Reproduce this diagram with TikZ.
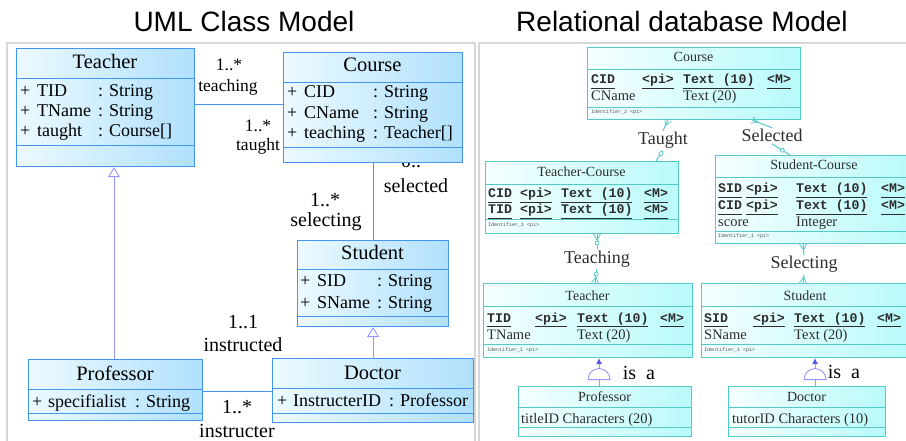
\documentclass[tikz,border=0pt]{standalone}
\usepackage{fontspec}
\setmainfont{Liberation Serif}
\setmonofont{Liberation Mono}
\newfontfamily\headfont{Liberation Sans}
\usetikzlibrary{arrows.meta,shapes.geometric,decorations.markings}
\newcommand{\keyfield}[1]{\underline{#1\vphantom{()}}}

\begin{document}
\begin{tikzpicture}[x=1pt, y=-1pt,
  heading/.style={font=\headfont\fontsize{28}{30}\selectfont, anchor=base, inner sep=0pt},
  panel/.style={draw=panelgray, line width=1.5pt},
  umlbox/.style={draw=umlblue, line width=1.1pt, left color=umllight, right color=umldark, anchor=north west, inner sep=0pt},
  umlrule/.style={draw=umlblue, line width=0.9pt},
  umltitle/.style={font=\fontsize{20.5}{22}\selectfont, anchor=base, inner sep=0pt},
  attr/.style={font=\fontsize{18}{20}\selectfont, anchor=base west, inner sep=0pt},
  role/.style={font=\fontsize{20}{22}\selectfont, anchor=base, inner sep=0pt},
  smallrole/.style={font=\fontsize{17.5}{19}\selectfont, anchor=base, inner sep=0pt},
  assoc/.style={draw=umlblue, line width=0.9pt},
  generalize/.style={draw=violetline, line width=0.9pt, -{Triangle[length=10pt, width=12pt, fill=white]}},
  dbtable/.style={draw=tealline, line width=1pt, left color=rdlight, right color=rddark, anchor=north west, inner sep=0pt},
  dbrule/.style={draw=tealline, line width=0.8pt},
  dbtitle/.style={font=\fontsize{14}{16}\selectfont, anchor=base, inner sep=0pt, text=dbtext},
  column/.style={font=\fontsize{14.5}{16}\selectfont, anchor=base west, inner sep=0pt, text=dbtext},
  keycol/.style={font=\fontsize{13.2}{15}\selectfont\ttfamily\bfseries, anchor=base west, inner sep=0pt, text=dbtext},
  ident/.style={font=\fontsize{5}{6}\selectfont\ttfamily, anchor=base west, inner sep=0pt, text=black!70},
  relname/.style={font=\fontsize{18}{20}\selectfont, anchor=base, inner sep=1.5pt, text=dbtext},
  rel/.style={draw=tealline, line width=1pt},
  crowstart/.style={postaction={decorate, decoration={markings, mark=at position 0 with {\draw[tealline, line width=0.8pt] (6pt,0pt) -- (0pt,3.5pt) (6pt,0pt) -- (0pt,-3.5pt);}}}},
  crowend/.style={postaction={decorate, decoration={markings, mark=at position 1 with {\draw[tealline, line width=0.8pt] (-6pt,0pt) -- (0pt,3.5pt) (-6pt,0pt) -- (0pt,-3.5pt);}}}},
  ringstart/.style={postaction={decorate, decoration={markings, mark=at position 0 with {\draw[tealline, line width=0.8pt, fill=white] (9pt,0pt) circle (2pt);}}}},
  ringend/.style={postaction={decorate, decoration={markings, mark=at position 1 with {\draw[tealline, line width=0.8pt, fill=white] (-9pt,0pt) circle (2pt);}}}},
  dome/.style={semicircle, draw=violetline, fill=white, line width=0.9pt, inner sep=0pt, minimum width=18pt, minimum height=11pt, anchor=chord center},
  isa/.style={draw=violetline, line width=0.9pt, -{Latex[length=6pt, width=6pt, color=isablue]}},
  isaline/.style={draw=violetline, line width=0.9pt},
  isalabel/.style={font=\fontsize{20}{22}\selectfont, anchor=base, inner sep=0pt}]
  \definecolor{umlblue}{RGB}{66,150,240}
  \definecolor{umllight}{RGB}{236,250,255}
  \definecolor{umldark}{RGB}{176,224,252}
  \definecolor{violetline}{RGB}{150,150,255}
  \definecolor{isablue}{RGB}{90,90,230}
  \definecolor{tealline}{RGB}{85,200,200}
  \definecolor{rdlight}{RGB}{245,255,255}
  \definecolor{rddark}{RGB}{185,250,250}
  \definecolor{dbtext}{RGB}{45,45,45}
  \definecolor{panelgray}{RGB}{215,215,215}
  \useasboundingbox (0,0) rectangle (906,441);
  \clip (0,0) rectangle (906,441);

  % panels and headings
  \draw[panel] (7,445) -- (7,43) -- (475,43) -- (475,445);
  \draw[panel] (479,445) -- (479,43) -- (910,43);
  \node[heading] (umlhead) at (244,32) {UML Class Model};
  \node[heading] (dbhead) at (682,32) {Relational database Model};

  % role names of the associations
  \node[smallrole] (teachmult) at (229,71) {1..*};
  \node[smallrole] (teachrole) at (228,92) {teaching};
  \node[smallrole] (taughtmult) at (258,132) {1..*};
  \node[smallrole] (taughtrole) at (258,151) {taught};
  \node[role] (selmult) at (416,168) {0..*};
  \node[role] (selrole) at (416,193) {selected};
  \node[role] (selingmult) at (325,207) {1..*};
  \node[role] (selingrole) at (326,226) {selecting};
  \node[role] (instmult) at (243,328) {1..1};
  \node[role] (instrole) at (243,351) {instructed};
  \node[role] (instrmult) at (237,413) {1..*};
  \node[role] (instrrole) at (237,437) {instructer};

  % UML classes
  \node[umlbox, minimum width=178, minimum height=118] (teacher) at (16,48) {};
  \draw[umlrule] (teacher.west |- 0,78) -- (teacher.east |- 0,78);
  \draw[umlrule] (teacher.west |- 0,145) -- (teacher.east |- 0,145);
  \node[umltitle] (teachername) at (105,69) {Teacher};
  \node[attr] (teacherp1) at (20,97) {+};
  \node[attr] (teachern1) at (37,97) {TID};
  \node[attr] (teachert1) at (98,97) {: String};
  \node[attr] (teacherp2) at (20,117) {+};
  \node[attr] (teachern2) at (37,117) {TName};
  \node[attr] (teachert2) at (98,117) {: String};
  \node[attr] (teacherp3) at (20,137) {+};
  \node[attr] (teachern3) at (37,137) {taught};
  \node[attr] (teachert3) at (98,137) {: Course[]};

  \node[umlbox, minimum width=179, minimum height=110] (course) at (283,52) {};
  \draw[umlrule] (course.west |- 0,82) -- (course.east |- 0,82);
  \draw[umlrule] (course.west |- 0,147) -- (course.east |- 0,147);
  \node[umltitle] (coursename) at (372.5,72) {Course};
  \node[attr] (coursep1) at (287,98) {+};
  \node[attr] (coursen1) at (304,98) {CID};
  \node[attr] (courset1) at (373,98) {: String};
  \node[attr] (coursep2) at (287,119) {+};
  \node[attr] (coursen2) at (304,119) {CName};
  \node[attr] (courset2) at (373,119) {: String};
  \node[attr] (coursep3) at (287,139) {+};
  \node[attr] (coursen3) at (304,139) {teaching};
  \node[attr] (courset3) at (373,139) {: Teacher[]};

  \node[umlbox, minimum width=151, minimum height=86] (student) at (297,240) {};
  \draw[umlrule] (student.west |- 0,269) -- (student.east |- 0,269);
  \draw[umlrule] (student.west |- 0,316) -- (student.east |- 0,316);
  \node[umltitle] (studentname) at (372.5,260) {Student};
  \node[attr] (studentp1) at (300,287) {+};
  \node[attr] (studentn1) at (317,287) {SID};
  \node[attr] (studentt1) at (377,287) {: String};
  \node[attr] (studentp2) at (300,308) {+};
  \node[attr] (studentn2) at (317,308) {SName};
  \node[attr] (studentt2) at (377,308) {: String};

  \node[umlbox, minimum width=174, minimum height=61] (professor) at (28,359) {};
  \draw[umlrule] (professor.west |- 0,389) -- (professor.east |- 0,389);
  \draw[umlrule] (professor.west |- 0,413) -- (professor.east |- 0,413);
  \node[umltitle] (professorname) at (115,380) {Professor};
  \node[attr] (professorp1) at (32,407) {+};
  \node[attr] (professorn1) at (48,407) {specifialist};
  \node[attr] (professort1) at (135,407) {: String};

  \node[umlbox, minimum width=201, minimum height=64] (doctor) at (272,358) {};
  \draw[umlrule] (doctor.west |- 0,388) -- (doctor.east |- 0,388);
  \draw[umlrule] (doctor.west |- 0,413) -- (doctor.east |- 0,413);
  \node[umltitle] (doctorname) at (372.5,379) {Doctor};
  \node[attr] (doctorp1) at (277,406) {+};
  \node[attr] (doctorn1) at (293,406) {InstructerID};
  \node[attr] (doctort1) at (389,406) {: Professor};

  % associations and generalizations
  \draw[assoc] (teacher.east |- 0,104) -- (course.west |- 0,104);
  \draw[assoc] (course.south) -- (student.north);
  \draw[assoc] (professor.east |- 0,391) -- (doctor.west |- 0,391);
  \draw[generalize] (professor.north -| 114,0) -- (teacher.south -| 114,0);
  \draw[generalize] (doctor.north) -- (student.south);

  % relational tables
  \node[dbtable, minimum width=213, minimum height=72] (courser) at (587,47) {};
  \draw[dbrule] (courser.west |- 0,69) -- (courser.east |- 0,69);
  \draw[dbrule] (courser.west |- 0,107) -- (courser.east |- 0,107);
  \node[dbtitle] (coursertitle) at (693.5,62) {Course};
  \node[keycol] (courserk1) at (591,84) {\keyfield{CID}};
  \node[keycol] (courserpi1) at (642,84) {\keyfield{<pi>}};
  \node[keycol] (coursertype1) at (683,84) {\keyfield{Text (10)}};
  \node[keycol] (courserm1) at (767,84) {\keyfield{<M>}};
  \node[column] (courserk2) at (591,101) {CName};
  \node[column] (coursertype2) at (683,101) {Text (20)};
  \node[ident] (courserid) at (591,114) {Identifier\_2 <pi>};

  \node[dbtable, minimum width=193, minimum height=72] (tcourse) at (485,161) {};
  \draw[dbrule] (tcourse.west |- 0,184) -- (tcourse.east |- 0,184);
  \draw[dbrule] (tcourse.west |- 0,219) -- (tcourse.east |- 0,219);
  \node[dbtitle] (tcoursetitle) at (581.5,177) {Teacher-Course};
  \node[keycol] (tcoursek1) at (488,198) {\keyfield{CID}};
  \node[keycol] (tcoursepi1) at (520,198) {\keyfield{<pi>}};
  \node[keycol] (tcoursetype1) at (561,198) {\keyfield{Text (10)}};
  \node[keycol] (tcoursem1) at (644,198) {\keyfield{<M>}};
  \node[keycol] (tcoursek2) at (488,214) {\keyfield{TID}};
  \node[keycol] (tcoursepi2) at (520,214) {\keyfield{<pi>}};
  \node[keycol] (tcoursetype2) at (561,214) {\keyfield{Text (10)}};
  \node[keycol] (tcoursem2) at (644,214) {\keyfield{<M>}};
  \node[ident] (tcourseid) at (488,226) {Identifier\_1 <pi>};

  \node[dbtable, minimum width=198, minimum height=88] (scourse) at (715,155) {};
  \draw[dbrule] (scourse.west |- 0,177) -- (scourse.east |- 0,177);
  \draw[dbrule] (scourse.west |- 0,231) -- (scourse.east |- 0,231);
  \node[dbtitle] (scoursetitle) at (814,170) {Student-Course};
  \node[keycol] (scoursek1) at (718,193) {\keyfield{SID}};
  \node[keycol] (scoursepi1) at (746,193) {\keyfield{<pi>}};
  \node[keycol] (scoursetype1) at (796,193) {\keyfield{Text (10)}};
  \node[keycol] (scoursem1) at (881,193) {\keyfield{<M>}};
  \node[keycol] (scoursek2) at (718,210) {\keyfield{CID}};
  \node[keycol] (scoursepi2) at (746,210) {\keyfield{<pi>}};
  \node[keycol] (scoursetype2) at (796,210) {\keyfield{Text (10)}};
  \node[keycol] (scoursem2) at (881,210) {\keyfield{<M>}};
  \node[column] (scoursek3) at (718,227) {score};
  \node[column] (scoursetype3) at (796,227) {Integer};
  \node[ident] (scourseid) at (718,238) {Identifier\_1 <pi>};

  \node[dbtable, minimum width=209, minimum height=74] (teacherr) at (483,283) {};
  \draw[dbrule] (teacherr.west |- 0,306) -- (teacherr.east |- 0,306);
  \draw[dbrule] (teacherr.west |- 0,344) -- (teacherr.east |- 0,344);
  \node[dbtitle] (teacherrtitle) at (587.5,300) {Teacher};
  \node[keycol] (teacherrk1) at (487,322) {\keyfield{TID}};
  \node[keycol] (teacherrpi1) at (535,322) {\keyfield{<pi>}};
  \node[keycol] (teacherrtype1) at (577,322) {\keyfield{Text (10)}};
  \node[keycol] (teacherrm1) at (660,322) {\keyfield{<M>}};
  \node[column] (teacherrk2) at (487,339) {TName};
  \node[column] (teacherrtype2) at (577,339) {Text (20)};
  \node[ident] (teacherrid) at (487,351) {Identifier\_1 <pi>};

  \node[dbtable, minimum width=208, minimum height=74] (studentr) at (701,283) {};
  \draw[dbrule] (studentr.west |- 0,306) -- (studentr.east |- 0,306);
  \draw[dbrule] (studentr.west |- 0,344) -- (studentr.east |- 0,344);
  \node[dbtitle] (studentrtitle) at (805,300) {Student};
  \node[keycol] (studentrk1) at (704,322) {\keyfield{SID}};
  \node[keycol] (studentrpi1) at (753,322) {\keyfield{<pi>}};
  \node[keycol] (studentrtype1) at (794,322) {\keyfield{Text (10)}};
  \node[keycol] (studentrm1) at (877,322) {\keyfield{<M>}};
  \node[column] (studentrk2) at (704,339) {SName};
  \node[column] (studentrtype2) at (794,339) {Text (20)};
  \node[ident] (studentrid) at (704,351) {Identifier\_1 <pi>};

  \node[dbtable, minimum width=173, minimum height=50] (professorr) at (518,386) {};
  \draw[dbrule] (professorr.west |- 0,407) -- (professorr.east |- 0,407);
  \draw[dbrule] (professorr.west |- 0,427) -- (professorr.east |- 0,427);
  \node[dbtitle] (professorrtitle) at (604.5,401) {Professor};
  \node[column] (professorrk1) at (521,423) {titleID Characters (20)};

  \node[dbtable, minimum width=157, minimum height=50] (doctorr) at (728,386) {};
  \draw[dbrule] (doctorr.west |- 0,407) -- (doctorr.east |- 0,407);
  \draw[dbrule] (doctorr.west |- 0,427) -- (doctorr.east |- 0,427);
  \node[dbtitle] (doctorrtitle) at (806.5,401) {Doctor};
  \node[column] (doctorrk1) at (732,423) {tutorID Characters (10)};

  % relationships
  \node[relname] (taught) at (663,145) {Taught};
  \node[relname] (selected) at (772,142) {Selected};
  \node[relname] (teaching) at (597,263) {Teaching};
  \node[relname] (selecting) at (804,269) {Selecting};
  \draw[rel, crowstart] (courser.south -| 668,0) -- (taught.north);
  \draw[rel, ringend] (taught.south) -- (tcourse.north -| 656,0);
  \draw[rel, crowstart] (courser.south -| 752,0) -- (selected.north);
  \draw[rel, ringend] (selected.south) -- (scourse.north -| 790,0);
  \draw[rel, crowstart, ringstart] (tcourse.south -| 597,0) -- (teaching.north);
  \draw[rel, crowend, ringend] (teaching.south) -- (teacherr.north -| 595,0);
  \draw[rel, crowstart] (scourse.south -| 803,0) -- (selecting.north);
  \draw[rel, crowend] (selecting.south) -- (studentr.north -| 803,0);

  % inheritance
  \node[dome] (profdome) at (599,380) {};
  \draw[isa] (profdome.apex) -- (teacherr.south -| profdome.apex);
  \draw[isaline] (profdome.chord center) -- (professorr.north -| profdome.chord center);
  \node[isalabel] (profisa) at (639,379) {is\ \ a};
  \node[dome] (docdome) at (815,380) {};
  \draw[isa] (docdome.apex) -- (studentr.south -| docdome.apex);
  \draw[isaline] (docdome.chord center) -- (doctorr.north -| docdome.chord center);
  \node[isalabel] (docisa) at (844,378) {is\ \ a};
\end{tikzpicture}
\end{document}
